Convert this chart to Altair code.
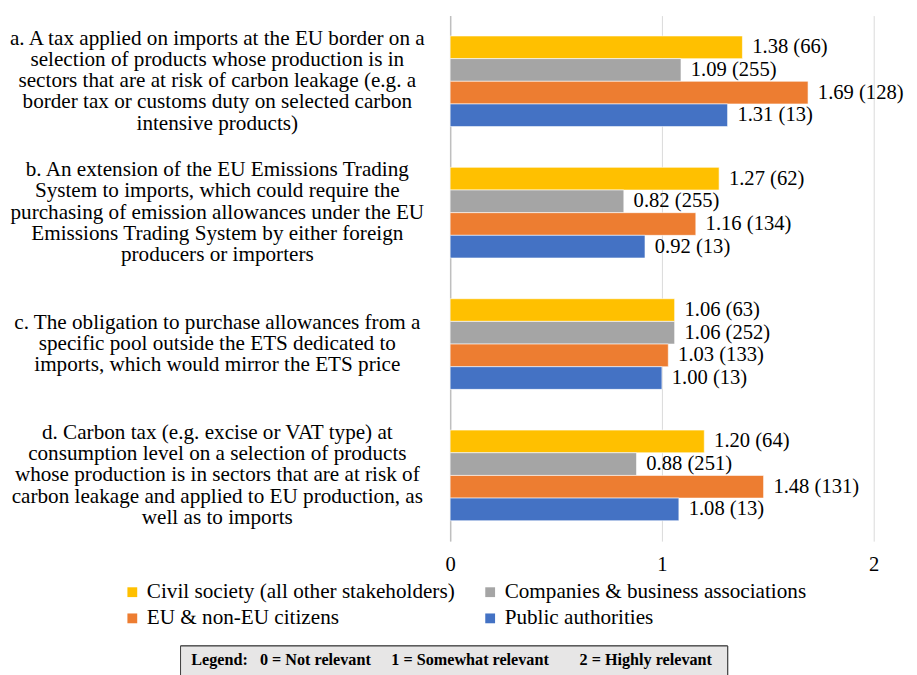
import altair as alt
import pandas as pd

categories = [
    "a. A tax applied on imports at the EU border on a|selection of products whose production is in|sectors that are at risk of carbon leakage (e.g. a|border tax or customs duty on selected carbon|intensive products)",
    "b. An extension of the EU Emissions Trading|System to imports, which could require the|purchasing of emission allowances under the EU|Emissions Trading System by either foreign|producers or importers",
    "|c. The obligation to purchase allowances from a|specific pool outside the ETS dedicated to|imports, which would mirror the ETS price|",
    "d. Carbon tax (e.g. excise or VAT type) at|consumption level on a selection of products|whose production is in sectors that are at risk of|carbon leakage and applied to EU production, as|well as to imports",
]
groups = [
    "Civil society (all other stakeholders)",
    "Companies & business associations",
    "EU & non-EU citizens",
    "Public authorities",
]
colors = ["#FFC000", "#A5A5A5", "#ED7D31", "#4472C4"]

civil_vals = [1.38, 1.27, 1.06, 1.20]
civil_n = [66, 62, 63, 64]
comp_vals = [1.09, 0.82, 1.06, 0.88]
comp_n = [255, 255, 252, 251]
citiz_vals = [1.69, 1.16, 1.03, 1.48]
citiz_n = [128, 134, 133, 131]
public_vals = [1.31, 0.92, 1.00, 1.08]
public_n = [13, 13, 13, 13]

x_ticks = [0.0, 1.0, 2.0]
NB = "\u00a0"
note_parts = ["Legend:" + NB * 3 + "0 = Not relevant", "1 = Somewhat relevant",
              "2 = Highly relevant"]

rows = []
for g, vals, ns in zip(groups, [civil_vals, comp_vals, citiz_vals, public_vals],
                       [civil_n, comp_n, citiz_n, public_n]):
    for c, v, n in zip(categories, vals, ns):
        rows.append({"category": c, "group": g, "value": v,
                     "label": f"{v:.2f} ({n})"})
df = pd.DataFrame(rows)

SERIF = "Liberation Serif"
FS = 21
CFS = 21.6
LH = 21.7

y_enc = alt.Y("category:N", sort=categories,
              scale=alt.Scale(paddingInner=0.31, paddingOuter=0.155),
              axis=alt.Axis(title=None, labelExpr="split(datum.label, '|')",
                            labelAlign="center", labelBaseline="middle",
                            labelPadding=238, labelOffset=-2 * LH,
                            labelFont=SERIF, labelFontSize=CFS,
                            labelLineHeight=LH, labelLimit=0, labelColor="#000000",
                            ticks=False, domain=True, domainColor="#BFBFBF",
                            domainWidth=1.5, grid=False))
yoff = alt.YOffset("group:N", sort=groups,
                   scale=alt.Scale(paddingInner=0, paddingOuter=0))
x_enc = alt.X("value:Q", scale=alt.Scale(domain=[0, 2], nice=False),
              axis=alt.Axis(title=None, values=x_ticks, format=".0f",
                            labelFont=SERIF, labelFontSize=FS, labelColor="#000000",
                            labelPadding=13, labelOverlap=False, labelFlush=False,
                            ticks=False, domain=False,
                            grid=True, gridColor="#D9D9D9", gridWidth=1))

bars = alt.Chart(df).mark_bar(stroke="#FFFFFF", strokeWidth=0.6).encode(
    y=y_enc, yOffset=yoff, x=x_enc,
    color=alt.Color("group:N", sort=groups,
                    scale=alt.Scale(domain=groups, range=colors),
                    legend=alt.Legend(title=None, orient="none", direction="horizontal",
                                      columns=2, legendX=-335, legendY=577,
                                      padding=0,
                                      symbolType="square", symbolSize=100,
                                      symbolStrokeWidth=0,
                                      labelFont=SERIF,
                                      labelFontSize=CFS, labelColor="#000000",
                                      labelLimit=0, labelOffset=4,
                                      columnPadding=25, rowPadding=4)),
)

texts = alt.Chart(df).mark_text(align="left", baseline="middle", dx=10,
                                font=SERIF, fontSize=FS, color="#000000").encode(
    y=alt.Y("category:N", sort=categories), yOffset=yoff,
    x="value:Q", text="label:N",
)

note_df = pd.DataFrame({"part": note_parts})
box = alt.Chart(note_df).mark_rect(fill="#E7E6E6", stroke="#404040",
                                   strokeWidth=1).encode(
    x=alt.value(-275), x2=alt.value(283), y=alt.value(643), y2=alt.value(675))


def note_part(i, xpx):
    return alt.Chart(note_df).transform_filter(
        alt.datum.part == note_parts[i]
    ).mark_text(font=SERIF, fontSize=16.5, fontWeight="bold", align="left",
                baseline="middle", color="#000000").encode(
        x=alt.value(xpx), y=alt.value(657), text="part:N")


notes = [note_part(0, -264), note_part(1, -60), note_part(2, 132)]

chart = alt.layer(bars, texts, box, *notes).properties(
    width=432, height=536, background="#FFFFFF",
    padding={"left": 0, "top": 1, "right": 5, "bottom": 0},
).configure_view(stroke=None)

chart.save("out.html", embed_options={"renderer": "svg", "actions": False})
